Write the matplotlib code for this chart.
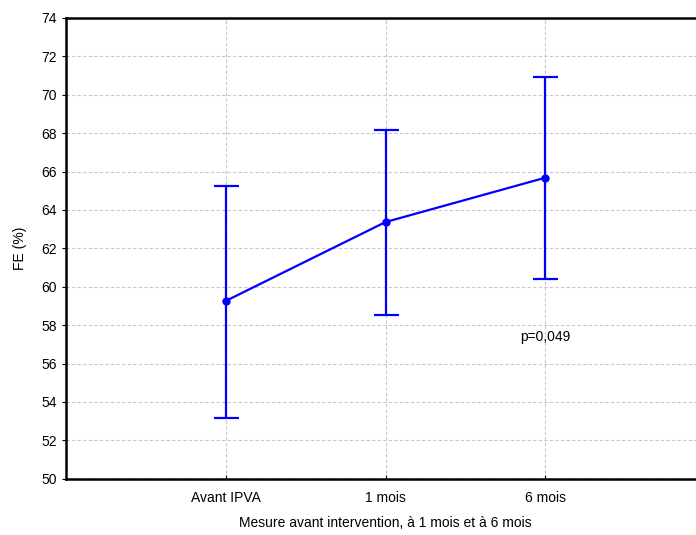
# FE (%) avant intervention, a 1 mois et a 6 mois
import numpy as np
import matplotlib.pyplot as plt

plt.rcParams['font.family'] = ['Liberation Sans', 'DejaVu Sans']

# donnees
labels = ["Avant IPVA", "1 mois", "6 mois"]
moyennes = [59.26, 63.37, 65.68]
bas = [53.16, 58.51, 60.42]
haut = [65.24, 68.16, 70.92]

x = np.arange(1, len(labels) + 1)
err = [np.array(moyennes) - np.array(bas), np.array(haut) - np.array(moyennes)]

fig = plt.figure(figsize=(6.96, 5.35), dpi=100)
ax = fig.add_axes([66 / 696, 1 - 478.7 / 535, (705 - 66) / 696, (478.7 - 18) / 535])

ax.errorbar(x, moyennes, yerr=err, color='#0000ff', lw=1.6, marker='o', ms=5,
            capsize=9, capthick=1.6, elinewidth=1.6, zorder=3)

ax.set_xlim(0, 4)
ax.set_ylim(50, 74)
ax.set_yticks(np.arange(50, 75, 2))
ax.set_xticks(x)
ax.set_xticklabels(labels)
ax.grid(True, color='#c8c8c8', ls=(0, (3, 2)), lw=0.8)
ax.set_axisbelow(True)

for s in ['left', 'bottom', 'top']:
    ax.spines[s].set_linewidth(1.8)
ax.spines['right'].set_visible(False)
ax.tick_params(axis='y', direction='out', length=3, labelsize=10)
ax.tick_params(axis='x', direction='in', length=3, labelsize=10, pad=9)

ax.set_ylabel("FE (%)", fontsize=10, labelpad=10)
ax.set_xlabel("Mesure avant intervention, à 1 mois et à 6 mois", fontsize=10, labelpad=8)

ax.text(3, 57.4, "p=0,049", ha='center', va='center', fontsize=10)

fig.savefig("out.png", dpi=100)
